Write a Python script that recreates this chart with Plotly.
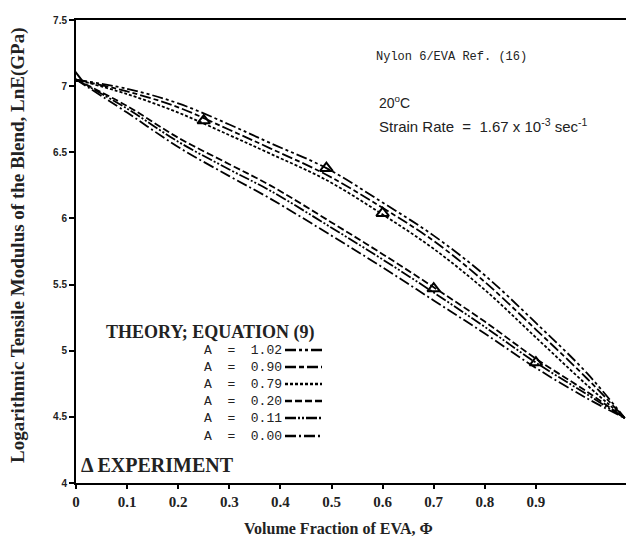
import plotly.graph_objects as go

# ---------------- data ----------------
phi = [0, 0.1, 0.2, 0.3, 0.38, 0.49, 0.6, 0.7, 0.8, 0.9, 1.0, 1.074]
phi_low = [0, 0.1, 0.2, 0.3, 0.38, 0.5, 0.6, 0.7, 0.8, 0.9, 1.0, 1.074]

lnE_A102 = [7.05, 6.98, 6.87, 6.71, 6.57, 6.38, 6.12, 5.87, 5.57, 5.21, 4.83, 4.49]
lnE_A090 = [7.05, 6.96, 6.84, 6.67, 6.53, 6.33, 6.08, 5.83, 5.52, 5.16, 4.79, 4.49]
lnE_A079 = [7.05, 6.94, 6.80, 6.63, 6.49, 6.29, 6.03, 5.77, 5.46, 5.10, 4.74, 4.49]
lnE_A020 = [7.05, 6.85, 6.61, 6.41, 6.25, 5.97, 5.73, 5.48, 5.22, 4.94, 4.69, 4.49]
lnE_A011 = [7.05, 6.83, 6.58, 6.37, 6.21, 5.93, 5.69, 5.44, 5.18, 4.91, 4.67, 4.49]
lnE_A000 = [7.05, 6.80, 6.54, 6.32, 6.15, 5.87, 5.63, 5.38, 5.13, 4.87, 4.64, 4.49]

exp_phi = [0, 0.25, 0.49, 0.60, 0.70, 0.90]
exp_lnE = [7.06, 6.74, 6.38, 6.04, 5.47, 4.91]

x_tickvals = [0, 0.1, 0.2, 0.3, 0.4, 0.5, 0.6, 0.7, 0.8, 0.9]
x_ticktext = ["0", "0.1", "0.2", "0.3", "0.4", "0.5", "0.6", "0.7", "0.8", "0.9"]
y_tickvals = [4, 4.5, 5, 5.5, 6, 6.5, 7, 7.5]
y_ticktext = ["4", "4.5", "5", "5.5", "6", "6.5", "7", "7.5"]

legend_labels = ["A  =  1.02", "A  =  0.90", "A  =  0.79", "A  =  0.20", "A  =  0.11", "A  =  0.00"]

# ---------------- styles ----------------
dashes = [
    "11px,3px,3px,3px,3px,3px",   # A = 1.02
    "11px,3px,5px,3px",           # A = 0.90
    "3px,2px",                    # A = 0.79
    "7px,3px",                    # A = 0.20
    "11px,2px,2px,2px,2px,2px",   # A = 0.11
    "11px,3px,2px,3px",           # A = 0.00
]
series = [
    (phi, lnE_A102), (phi, lnE_A090), (phi, lnE_A079),
    (phi_low, lnE_A020), (phi_low, lnE_A011), (phi_low, lnE_A000),
]

W, H = 626, 552
L, R, T, B = 76, 0, 20, 69
PW, PH = W - L - R, H - T - B


def px(x):
    return (x - L) / PW


def py(y):
    return (H - B - y) / PH


fig = go.Figure()
for (xs, ys), d, lab in zip(series, dashes, legend_labels):
    fig.add_trace(go.Scatter(
        x=xs, y=ys, mode="lines", name=lab, line_shape="spline",
        line=dict(color="black", width=1.8, dash=d), showlegend=False))

fig.add_trace(go.Scatter(
    x=exp_phi, y=exp_lnE, mode="markers", name="EXPERIMENT", showlegend=False,
    marker=dict(symbol="triangle-up-open", size=11, color="black",
                line=dict(color="black", width=2))))

serif = "Liberation Serif"
annotations = []
shapes = []


def note(text, x, y, xanchor="center", size=14, family=serif, angle=0):
    annotations.append(dict(
        text=text, xref="paper", yref="paper", x=px(x), y=py(y),
        xanchor=xanchor, yanchor="middle", textangle=angle, showarrow=False,
        font=dict(family=family, size=size, color="#222")))


# axis titles
note("<b>Logarithmic Tensile Modulus of the Blend, LnE(GPa)</b>", 18, 246, size=19, angle=-90)
note("<b>Volume Fraction of EVA, Φ</b>", 338, 528, size=16)

# top-right notes
note("Nylon 6/EVA Ref. (16)", 374, 57, xanchor="left", size=12, family="Liberation Mono")
note("20<sup>o</sup>C", 377, 102, xanchor="left", size=14, family="Liberation Sans")
note("Strain Rate  =  1.67 x 10<sup>-3</sup> sec<sup>-1</sup>", 377, 125,
     xanchor="left", size=15, family="Liberation Sans")

# legend block
note("<b>THEORY; EQUATION (9)</b>", 104, 332, xanchor="left", size=18)
row_y = [350, 367, 384, 401, 418, 436]
for lab, d, yy in zip(legend_labels, dashes, row_y):
    note(lab, 284, yy, xanchor="right", size=13, family="Liberation Mono")
    shapes.append(dict(
        type="line", xref="paper", yref="paper",
        x0=px(285), x1=px(322), y0=py(yy), y1=py(yy),
        line=dict(color="black", width=2.4, dash=d)))
note("<b>Δ EXPERIMENT</b>", 79, 465, xanchor="left", size=20)

fig.update_layout(
    width=W, height=H,
    margin=dict(l=L, r=R, t=T, b=B),
    paper_bgcolor="white", plot_bgcolor="white",
    showlegend=False,
    annotations=annotations, shapes=shapes,
    xaxis=dict(
        range=[0, PW / 511.0], tickvals=x_tickvals, ticktext=x_ticktext,
        showgrid=False, zeroline=False, showline=True, linecolor="black",
        linewidth=2, mirror=True, ticks="outside", ticklen=4, tickwidth=1.5,
        tickcolor="black",
        tickfont=dict(family=serif, size=15, color="#222", weight="bold"),
    ),
    yaxis=dict(
        range=[4, 7.5], tickvals=y_tickvals, ticktext=y_ticktext,
        showgrid=False, zeroline=False, showline=True, linecolor="black",
        linewidth=2, ticks="outside", ticklen=5, tickwidth=1.5, tickcolor="black",
        tickfont=dict(family="Liberation Sans", size=10, color="#222", weight="bold"),
    ),
)

fig.write_html("out.html")
